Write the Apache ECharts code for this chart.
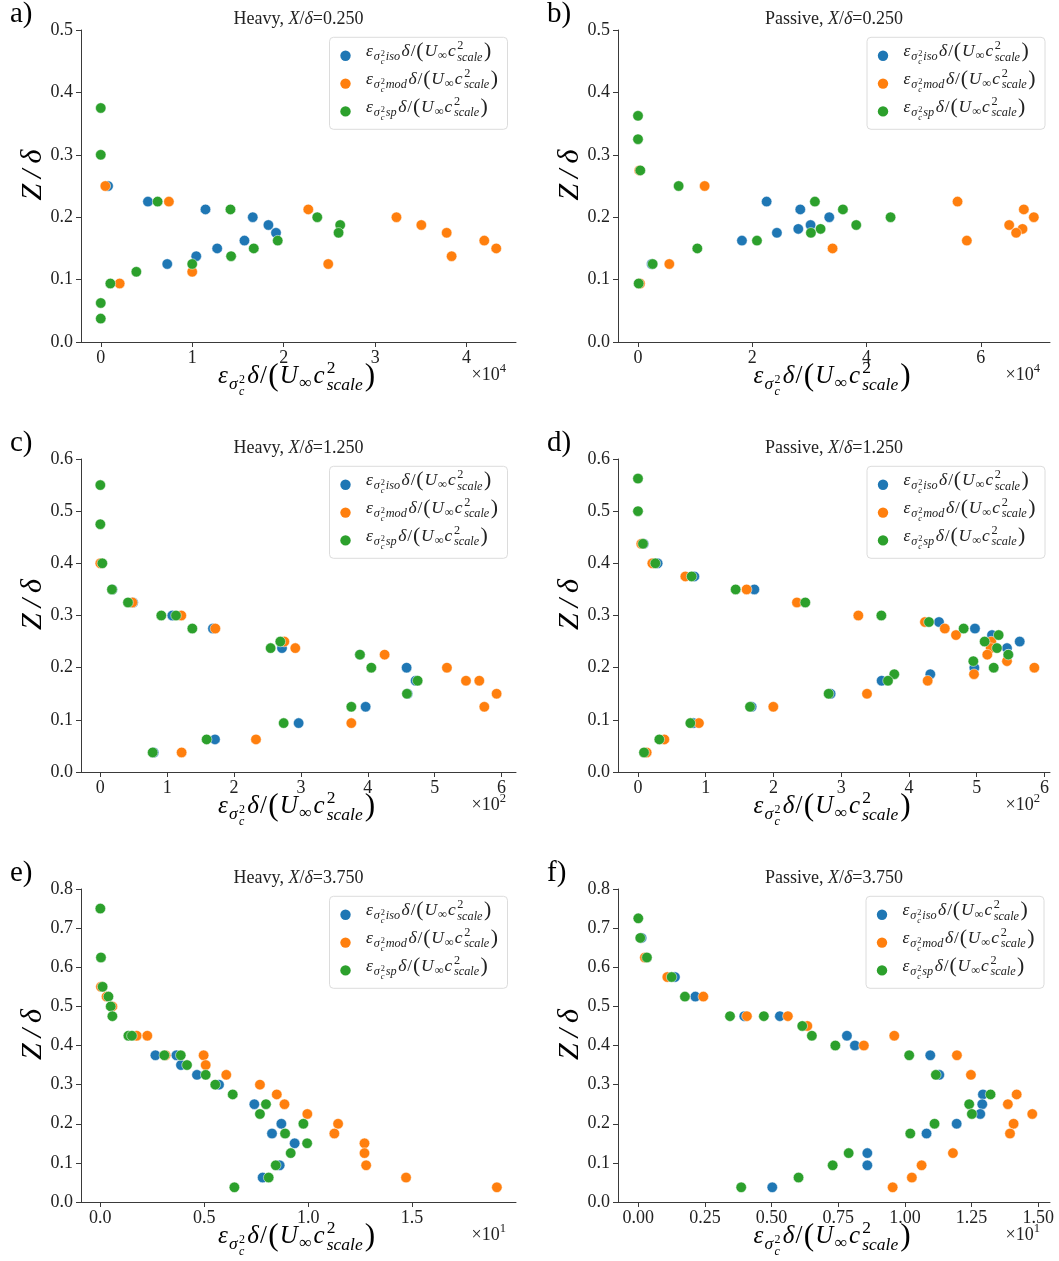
<!DOCTYPE html>
<html>
<head>
<meta charset="utf-8">
<script src="https://cdn.jsdelivr.net/npm/echarts@6/dist/echarts.min.js"></script>
<style>
  html, body { margin: 0; padding: 0; background: #fff; }
  #chart { width: 1059px; height: 1261px; }
</style>
</head>
<body>
<div id="chart"></div>
<script>
// ---------- data: dissipation estimates vs. wall-normal position ----------
// Heavy, X/delta = 0.250  (x values in units of 1e4)
const aIsoX = [0.08, 0.516, 1.145, 1.662, 1.833, 1.916, 1.571, 1.273, 1.044, 0.727];
const aIsoZ = [0.25, 0.225, 0.2125, 0.2, 0.1875, 0.175, 0.1625, 0.15, 0.1375, 0.125];
const aModX = [0.05, 0.745, 2.269, 3.233, 3.505, 3.782, 4.193, 4.324, 3.836, 2.487, 1.0, 0.207];
const aModZ = [0.25, 0.225, 0.2125, 0.2, 0.1875, 0.175, 0.1625, 0.15, 0.1375, 0.125, 0.1125, 0.09375];
const aSpX = [0, 0, 0.622, 1.418, 2.367, 2.618, 2.6, 1.935, 1.673, 1.425, 1.0, 0.389, 0.105, 0, 0];
const aSpZ = [0.375, 0.3, 0.225, 0.2125, 0.2, 0.1875, 0.175, 0.1625, 0.15, 0.1375, 0.125, 0.1125, 0.09375, 0.0625, 0.0375];

// Passive, X/delta = 0.250  (x1e4)
const bIsoX = [2.251, 2.84, 3.347, 3.02, 2.805, 2.431, 1.819, 0.239];
const bIsoZ = [0.225, 0.2125, 0.2, 0.1875, 0.18125, 0.175, 0.1625, 0.125];
const bModX = [0.023, 1.166, 5.592, 6.752, 6.927, 6.496, 6.729, 6.618, 5.755, 3.405, 0.548, 0.035];
const bModZ = [0.275, 0.25, 0.225, 0.2125, 0.2, 0.1875, 0.18125, 0.175, 0.1625, 0.15, 0.125, 0.09375];
const bSpX = [0, 0, 0.04, 0.711, 3.096, 3.586, 4.42, 3.819, 3.195, 3.026, 2.082, 1.038, 0.257, 0.012];
const bSpZ = [0.3625, 0.325, 0.275, 0.25, 0.225, 0.2125, 0.2, 0.1875, 0.18125, 0.175, 0.1625, 0.15, 0.125, 0.09375];

// Heavy, X/delta = 1.250  (x1e2)
const cIsoX = [0.18, 0.489, 1.077, 1.685, 2.717, 3.883, 4.581, 4.716, 4.596, 3.968, 2.966, 1.715, 0.798];
const cIsoZ = [0.35, 0.325, 0.3, 0.275, 0.2375, 0.225, 0.2, 0.175, 0.15, 0.125, 0.09375, 0.0625, 0.0375];
const cModX = [0.0, 0.479, 1.211, 1.72, 2.752, 2.916, 4.252, 5.184, 5.469, 5.668, 5.927, 5.743, 3.754, 2.328, 1.216];
const cModZ = [0.4, 0.325, 0.3, 0.275, 0.25, 0.2375, 0.225, 0.2, 0.175, 0.175, 0.15, 0.125, 0.09375, 0.0625, 0.0375];
const cSpX = [0, 0, 0.03, 0.174, 0.414, 0.912, 1.132, 1.376, 2.692, 2.547, 3.883, 4.053, 4.746, 4.586, 3.754, 2.742, 1.59, 0.783];
const cSpZ = [0.55, 0.475, 0.4, 0.35, 0.325, 0.3, 0.3, 0.275, 0.25, 0.2375, 0.225, 0.2, 0.175, 0.15, 0.125, 0.09375, 0.0625, 0.0375];

// Passive, X/delta = 1.250  (x1e2)
const dIsoX = [0.084, 0.29, 0.832, 1.718, 4.444, 4.975, 5.227, 5.636, 5.448, 5.467, 4.966, 4.316, 3.597, 2.844, 1.678, 0.817];
const dIsoZ = [0.4375, 0.4, 0.375, 0.35, 0.2875, 0.275, 0.2625, 0.25, 0.2375, 0.225, 0.2, 0.1875, 0.175, 0.15, 0.125, 0.09375];
const dModX = [0.049, 0.212, 0.699, 1.604, 2.347, 3.253, 4.237, 4.53, 4.695, 5.216, 5.207, 5.157, 5.448, 5.852, 4.961, 4.277, 3.381, 1.998, 0.9, 0.389, 0.128];
const dModZ = [0.4375, 0.4, 0.375, 0.35, 0.325, 0.3, 0.2875, 0.275, 0.2625, 0.25, 0.2375, 0.225, 0.2125, 0.2, 0.1875, 0.175, 0.15, 0.125, 0.09375, 0.0625, 0.0375];
const dSpX = [0, 0, 0.074, 0.256, 0.792, 1.442, 2.47, 3.593, 4.296, 4.808, 5.325, 5.118, 5.30, 5.467, 4.951, 5.252, 3.784, 3.691, 2.815, 1.654, 0.773, 0.315, 0.089];
const dSpZ = [0.5625, 0.5, 0.4375, 0.4, 0.375, 0.35, 0.325, 0.3, 0.2875, 0.275, 0.2625, 0.25, 0.2375, 0.225, 0.2125, 0.2, 0.1875, 0.175, 0.15, 0.125, 0.09375, 0.0625, 0.0375];

// Heavy, X/delta = 3.750  (x1e1)
const eIsoX = [0.265, 0.366, 0.388, 0.465, 0.571, 0.741, 0.871, 0.826, 0.935, 0.863, 0.781];
const eIsoZ = [0.375, 0.375, 0.35, 0.325, 0.3, 0.25, 0.2, 0.175, 0.15, 0.09375, 0.0625];
const eModX = [0.003, 0.03, 0.058, 0.175, 0.226, 0.314, 0.497, 0.507, 0.606, 0.768, 0.849, 0.886, 0.996, 1.144, 1.126, 1.271, 1.271, 1.279, 1.471, 1.908];
const eModZ = [0.55, 0.525, 0.5, 0.425, 0.425, 0.375, 0.375, 0.35, 0.325, 0.3, 0.275, 0.25, 0.225, 0.2, 0.175, 0.15, 0.125, 0.09375, 0.0625, 0.0375];
const eSpX = [0, 0.003, 0.011, 0.039, 0.05, 0.058, 0.135, 0.152, 0.308, 0.387, 0.417, 0.507, 0.553, 0.637, 0.797, 0.768, 0.977, 0.889, 0.995, 0.916, 0.844, 0.81, 0.645];
const eSpZ = [0.75, 0.625, 0.55, 0.525, 0.5, 0.475, 0.425, 0.425, 0.375, 0.375, 0.35, 0.325, 0.3, 0.275, 0.25, 0.225, 0.2, 0.175, 0.15, 0.125, 0.09375, 0.0625, 0.0375];

// Passive, X/delta = 3.750  (x1e1)
const fIsoX = [0.0125, 0.1375, 0.214, 0.3975, 0.531, 0.7825, 0.8125, 1.095, 1.129, 1.2925, 1.29, 1.2825, 1.194, 1.081, 0.859, 0.859, 0.5025];
const fIsoZ = [0.675, 0.575, 0.525, 0.475, 0.475, 0.425, 0.4, 0.375, 0.325, 0.275, 0.25, 0.225, 0.2, 0.175, 0.125, 0.09375, 0.0375];
const fModX = [0.025, 0.109, 0.244, 0.4075, 0.561, 0.634, 0.96, 0.846, 1.195, 1.2475, 1.419, 1.386, 1.4775, 1.4075, 1.394, 1.18, 1.0625, 1.026, 0.954];
const fModZ = [0.625, 0.575, 0.525, 0.475, 0.475, 0.45, 0.425, 0.4, 0.375, 0.325, 0.275, 0.25, 0.225, 0.2, 0.175, 0.125, 0.09375, 0.0625, 0.0375];
const fSpX = [0, 0.0075, 0.0325, 0.125, 0.175, 0.344, 0.471, 0.615, 0.651, 0.739, 1.016, 1.116, 1.321, 1.241, 1.251, 1.111, 1.02, 0.789, 0.729, 0.601, 0.386];
const fSpZ = [0.725, 0.675, 0.625, 0.575, 0.525, 0.475, 0.475, 0.45, 0.425, 0.4, 0.375, 0.325, 0.275, 0.25, 0.225, 0.2, 0.175, 0.125, 0.09375, 0.0625, 0.0375];

// tick positions
const aTicks = [0, 1, 2, 3, 4];
const bTicks = [0, 2, 4, 6];
const cTicks = [0, 1, 2, 3, 4, 5, 6];
const dTicks = [0, 1, 2, 3, 4, 5, 6];
const eTicks = [0, 0.5, 1.0, 1.5];
const fTicks = [0, 0.25, 0.5, 0.75, 1.0, 1.25, 1.5];

// ---------- layout ----------
const SERIF = '"Liberation Serif", "DejaVu Serif", serif';
const INK = '#222';
const AXIS = '#3a3a3a';
const COLORS = ['#1f77b4', '#ff7f0e', '#2ca02c'];
const KEYS = ['iso', 'mod', 'sp'];

const panels = [
  { tag: 'a)', kind: 'Heavy',   xd: '0.250', left: 81,  top: 30,  w: 435, h: 312, xMin: -0.216, xMax: 4.54,  yMax: 0.5, ticks: aTicks, dec: 0, exp: '4', lx: 329.5,
    data: [[aIsoX, aIsoZ], [aModX, aModZ], [aSpX, aSpZ]] },
  { tag: 'b)', kind: 'Passive', xd: '0.250', left: 618, top: 30,  w: 432, h: 312, xMin: -0.35,  xMax: 7.21,  yMax: 0.5, ticks: bTicks, dec: 0, exp: '4', lx: 867,
    data: [[bIsoX, bIsoZ], [bModX, bModZ], [bSpX, bSpZ]] },
  { tag: 'c)', kind: 'Heavy',   xd: '1.250', left: 81,  top: 459, w: 435, h: 313, xMin: -0.289, xMax: 6.217, yMax: 0.6, ticks: cTicks, dec: 0, exp: '2', lx: 329.5,
    data: [[cIsoX, cIsoZ], [cModX, cModZ], [cSpX, cSpZ]] },
  { tag: 'd)', kind: 'Passive', xd: '1.250', left: 618, top: 459, w: 432, h: 313, xMin: -0.295, xMax: 6.083, yMax: 0.6, ticks: dTicks, dec: 0, exp: '2', lx: 867,
    data: [[dIsoX, dIsoZ], [dModX, dModZ], [dSpX, dSpZ]] },
  { tag: 'e)', kind: 'Heavy',   xd: '3.750', left: 81,  top: 889, w: 435, h: 313, xMin: -0.093, xMax: 2.0,   yMax: 0.8, ticks: eTicks, dec: 1, exp: '1', lx: 329.5,
    data: [[eIsoX, eIsoZ], [eModX, eModZ], [eSpX, eSpZ]] },
  { tag: 'f)', kind: 'Passive', xd: '3.750', left: 618, top: 889, w: 432, h: 313, xMin: -0.076, xMax: 1.544, yMax: 0.8, ticks: fTicks, dec: 2, exp: '1', lx: 866,
    data: [[fIsoX, fIsoZ], [fModX, fModZ], [fSpX, fSpZ]] }
];

// ---------- small typesetting helper for the math labels ----------
const measureCtx = document.createElement('canvas').getContext('2d');
function textWidth(t, size, italic) {
  measureCtx.font = (italic ? 'italic ' : '') + size + 'px ' + SERIF;
  return measureCtx.measureText(t).width;
}
// piece: [text, scale, dy (em, down positive), italic, stackOnPrevious, gapBefore (em)]
function addMath(els, pieces, F, x0, baseY, align, color, spacing) {
  let cursor = 0, prevStart = 0, first = true;
  const sp = (spacing || 0) * F;
  const laid = [];
  for (const p of pieces) {
    const [t, sc, dy, it, stack, gap] = p;
    const size = F * sc;
    const w = textWidth(t, size, it);
    const start = stack ? prevStart : cursor + (gap || 0) * F + (first ? 0 : sp);
    laid.push({ t, size, it, x: start, y: dy * F });
    if (stack) cursor = Math.max(cursor, start + w);
    else { prevStart = start; cursor = start + w; }
    first = false;
  }
  const off = align === 'center' ? -cursor / 2 : align === 'right' ? -cursor : 0;
  for (const l of laid) {
    els.push({
      type: 'text', silent: true, z: 110,
      x: x0 + off + l.x, y: baseY + l.y - 0.34 * l.size,
      style: { text: l.t, fontFamily: SERIF, fontSize: l.size, fontStyle: l.it ? 'italic' : 'normal',
               fill: color, align: 'left', verticalAlign: 'middle' }
    });
  }
}
function epsPieces(key) {
  const p = [
    ['ε', 1, 0, true],
    ['σ', 0.7, 0.22, true],
    ['2', 0.48, -0.04, false],
    ['c', 0.48, 0.42, true, true]
  ];
  if (key) p.push([key, 0.7, 0.22, true]);
  p.push(
    ['δ', 1, 0, true, false, 0.04],
    ['/', 1, 0, false],
    ['(', 1.25, 0.08, false],
    ['U', 1, 0, true],
    ['∞', 0.7, 0.16, false],
    ['c', 1, 0, true, false, 0.02],
    ['2', 0.7, -0.42, false, false, 0.04],
    ['scale', 0.7, 0.24, true, true],
    [')', 1.25, 0.08, false, false, 0.03]
  );
  return p;
}

// ---------- build option ----------
const grids = [], xAxes = [], yAxes = [], series = [], graphics = [];

panels.forEach((P, i) => {
  grids.push({ left: P.left, top: P.top, width: P.w, height: P.h, containLabel: false, outerBoundsMode: 'none' });
  const fmtX = v => v.toFixed(P.dec);
  xAxes.push({
    gridIndex: i, type: 'value', min: P.xMin, max: P.xMax,
    axisLine: { show: true, onZero: false, lineStyle: { color: AXIS, width: 1 } },
    axisTick: { show: true, inside: false, length: 5, customValues: P.ticks, lineStyle: { color: AXIS, width: 1 } },
    axisLabel: { show: true, customValues: P.ticks, formatter: fmtX, fontFamily: SERIF, fontSize: 18, color: INK, margin: 7 },
    splitLine: { show: false }
  });
  yAxes.push({
    gridIndex: i, type: 'value', min: 0, max: P.yMax, interval: 0.1,
    axisLine: { show: true, onZero: false, lineStyle: { color: AXIS, width: 1 } },
    axisTick: { show: true, inside: false, length: 5, lineStyle: { color: AXIS, width: 1 } },
    axisLabel: { show: true, formatter: v => v.toFixed(1), fontFamily: SERIF, fontSize: 18, color: INK, margin: 8 },
    splitLine: { show: false }
  });
  P.data.forEach((pair, k) => {
    const [xs, zs] = pair;
    series.push({
      type: 'scatter', name: KEYS[k] + i, xAxisIndex: i, yAxisIndex: i,
      symbol: 'circle', symbolSize: 10.5,
      itemStyle: { color: COLORS[k], borderColor: '#fff', borderWidth: 0.5, opacity: 1 },
      emphasis: { disabled: true },
      data: xs.map((x, j) => [x, zs[j]])
    });
  });

  const cx = P.left + P.w / 2;
  // panel letter
  graphics.push({ type: 'text', silent: true, x: P.left - 71, y: P.top - 6 - 0.34 * 29,
    style: { text: P.tag, fontFamily: SERIF, fontSize: 29, fill: '#000', align: 'left', verticalAlign: 'middle' } });
  // title
  addMath(graphics, [[P.kind + ', ', 1, 0, false], ['X', 1, 0, true], ['/', 1, 0, false], ['δ', 1, 0, true], ['=' + P.xd, 1, 0, false]],
    18, cx, P.top - 5, 'center', INK, 0);
  // y label
  graphics.push({ type: 'text', silent: true, x: P.left - 48, y: P.top + P.h * 0.465, rotation: Math.PI / 2,
    style: { text: 'Z\u2009/\u2009δ', fontFamily: SERIF, fontSize: 30, fontStyle: 'italic', fill: '#000', align: 'center', verticalAlign: 'middle' } });
  // x label
  addMath(graphics, epsPieces(null), 25, cx - 2, P.top + P.h + 43, 'center', '#000', 0.05);
  // scale factor
  addMath(graphics, [['×10', 1, 0, false], [P.exp, 0.7, -0.42, false]], 18, P.left + P.w - 10, P.top + P.h + 39, 'right', INK, 0);
  // legend
  const ly = P.top + 7.3;
  graphics.push({ type: 'rect', silent: true, z: 105, shape: { x: P.lx, y: ly, width: 178, height: 92, r: 4 },
    style: { fill: 'rgba(255,255,255,0.8)', stroke: '#dcdcdc', lineWidth: 1 } });
  KEYS.forEach((key, k) => {
    graphics.push({ type: 'circle', silent: true, z: 110, shape: { cx: P.lx + 16, cy: ly + 18.5 + k * 27.8, r: 5.2 },
      style: { fill: COLORS[k] } });
    addMath(graphics, epsPieces(key), 17.5, P.lx + 36.5, ly + 20 + k * 27.8, 'left', INK, 0.05);
  });
});

const chart = echarts.init(document.getElementById('chart'), null, { renderer: 'canvas' });
chart.setOption({
  backgroundColor: '#fff',
  animation: false,
  grid: grids,
  xAxis: xAxes,
  yAxis: yAxes,
  series: series,
  graphic: { elements: graphics }
});
</script>
</body>
</html>
